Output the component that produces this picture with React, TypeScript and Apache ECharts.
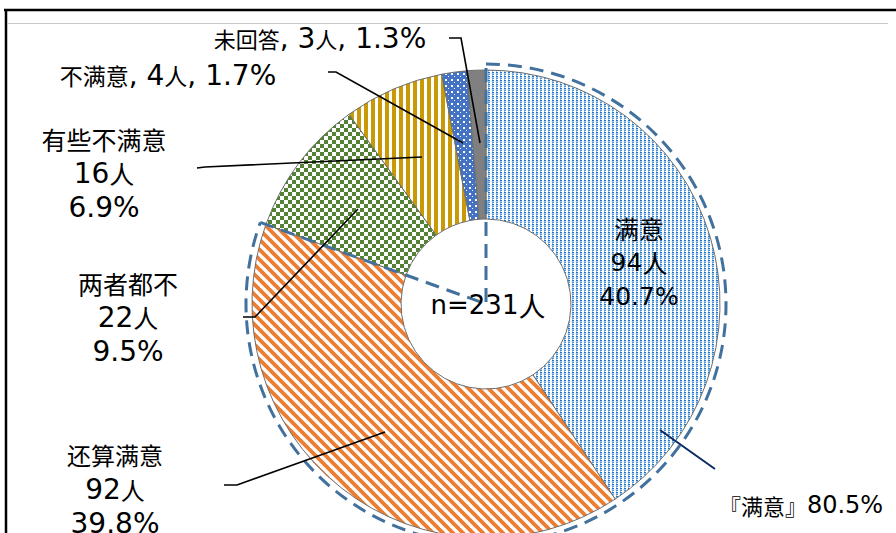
import React, { useEffect, useRef } from "react";
import * as echarts from "echarts";

const names = ["满意", "还算满意", "两者都不", "有些不满意", "不满意", "未回答"];
const counts = [94, 92, 22, 16, 4, 3];
const percents = [40.7, 39.8, 9.5, 6.9, 1.7, 1.3];
const totalLabel = "n=231人";
const groupLabel = "『满意』80.5%";
const groupCount = 2; // first two slices form the dashed group

const CX = 486;
const CY = 304;
const R_IN = 85;
const R_OUT = 234;
const R_DASH = 240;
const CJK = '"Noto Sans CJK SC", "Noto Sans CJK JP", sans-serif';
const LAT = '"DejaVu Sans", "Noto Sans", sans-serif';

function tile(w: number, h: number, draw: (c: CanvasRenderingContext2D) => void) {
  const cv = document.createElement("canvas");
  cv.width = w;
  cv.height = h;
  const c = cv.getContext("2d")!;
  draw(c);
  return { image: cv.toDataURL(), imageWidth: w, imageHeight: h, repeat: "repeat" };
}

function patterns(): any[] {
  const blueDots = tile(4, 4, (c) => {
    c.fillStyle = "#ffffff";
    c.fillRect(0, 0, 4, 4);
    c.fillStyle = "#1f77c9";
    c.fillRect(0, 0, 2, 1);
    c.fillStyle = "#4f95d8";
    c.fillRect(0, 2, 2, 1);
    c.fillStyle = "#9cc4ec";
    c.fillRect(0, 1, 2, 1);
    c.fillRect(0, 3, 1, 1);
    c.fillStyle = "#d6e7f7";
    c.fillRect(3, 1, 1, 1);
  });
  const orange = tile(10, 10, (c) => {
    c.fillStyle = "#ffffff";
    c.fillRect(0, 0, 10, 10);
    c.strokeStyle = "#ed7d31";
    c.lineWidth = 3.8;
    for (let k = -1; k <= 1; k++) {
      c.beginPath();
      c.moveTo(k * 10 - 2, -2);
      c.lineTo(k * 10 + 12, 12);
      c.stroke();
    }
  });
  const checker = tile(8, 8, (c) => {
    c.fillStyle = "#ffffff";
    c.fillRect(0, 0, 8, 8);
    c.fillStyle = "#548235";
    c.fillRect(0, 0, 4, 4);
    c.fillRect(4, 4, 4, 4);
  });
  const gold = tile(7, 2, (c) => {
    c.fillStyle = "#ffffff";
    c.fillRect(0, 0, 7, 2);
    c.fillStyle = "#c99a06";
    c.fillRect(0, 0, 4, 2);
  });
  const blueWhite = tile(6, 6, (c) => {
    c.fillStyle = "#4472c4";
    c.fillRect(0, 0, 6, 6);
    c.fillStyle = "#ffffff";
    c.fillRect(1, 1, 2, 2);
    c.fillRect(4, 4, 1, 1);
  });
  return [blueDots, orange, checker, gold, blueWhite, "#808080"];
}

// label placement: text block centre, font sizes (CJK / Latin), leader line points
const labelPos: { x: number; y: number; c: number; l: number; line?: number[][] }[] = [
  { x: 639, y: 262, c: 25, l: 25 },
  { x: 115, y: 489, c: 24, l: 28, line: [[385, 432], [237, 485], [224, 485]] },
  { x: 128, y: 317, c: 25, l: 28, line: [[358, 209], [255, 317], [243, 317]] },
  { x: 104, y: 173, c: 25, l: 28, line: [[422, 157], [205, 167], [197, 168]] },
  { x: 168, y: 75, c: 23, l: 28, line: [[463, 143], [336, 72], [328, 72]] },
  { x: 320, y: 38, c: 22, l: 28, line: [[480, 143], [461, 38], [449, 38]] },
];

// wrap runs of Latin and CJK characters in rich-text tags
function richText(s: string, c: string, l: string) {
  return s
    .split("\n")
    .map((line) =>
      line
        .split(/([\x20-\x7e]+)/)
        .filter((r) => r.length > 0)
        .map((r) => (/^[\x20-\x7e]+$/.test(r) ? `{${l}|${r}}` : `{${c}|${r}}`))
        .join("")
    )
    .join("\n");
}

function richStyles(c: number, l: number, lh: number) {
  return {
    c: { fontFamily: CJK, fontSize: c, lineHeight: lh, color: "#000" },
    l: { fontFamily: LAT, fontSize: l, lineHeight: lh, color: "#000" },
  };
}

export default function App() {
  const ref = useRef<HTMLDivElement>(null);
  useEffect(() => {
    document.body.style.margin = "0";
    const chart = echarts.init(ref.current!, undefined, { renderer: "svg" });
    const fills = patterns();
    const total = counts.reduce((a, b) => a + b, 0);
    const groupSum = counts.slice(0, groupCount).reduce((a, b) => a + b, 0);
    const a0 = -Math.PI / 2;
    const a1 = a0 + (2 * Math.PI * groupSum) / total;
    const dashStyle = { stroke: "#41719c", lineWidth: 3, lineDash: [14, 8], fill: "none" };

    const leaderLines = labelPos
      .filter((p) => p.line)
      .map((p) => ({
        type: "polyline",
        z: 150,
        shape: { points: p.line },
        style: { stroke: "#000", lineWidth: 1.6, fill: "none" },
      }));

    chart.setOption({
      animation: false,
      backgroundColor: "#ffffff",
      graphic: [
        { type: "line", z: 200, shape: { x1: 4, y1: 10, x2: 896, y2: 10 }, style: { stroke: "#000", lineWidth: 2.5 } },
        { type: "line", z: 200, shape: { x1: 6, y1: 10, x2: 6, y2: 533 }, style: { stroke: "#000", lineWidth: 2.5 } },
        { type: "line", z: 200, shape: { x1: 8, y1: 23.5, x2: 888, y2: 23.5 }, style: { stroke: "#c8c8c8", lineWidth: 1 } },
        {
          type: "arc",
          z: 100,
          shape: { cx: CX, cy: CY, r: R_DASH, startAngle: a0, endAngle: a1, clockwise: true },
          style: dashStyle,
        },
        {
          type: "polyline",
          z: 100,
          shape: {
            points: [
              [CX + R_DASH * Math.cos(a1), CY + R_DASH * Math.sin(a1)],
              [CX, CY],
              [CX, CY - R_DASH],
            ],
          },
          style: dashStyle,
        },
        ...leaderLines,
        {
          type: "text",
          z: 160,
          x: CX + 2,
          y: CY + 1,
          style: {
            text: richText(totalLabel, "c", "l"),
            rich: richStyles(27, 26, 34),
            align: "center",
            verticalAlign: "middle",
          },
        },
        {
          type: "line",
          z: 101,
          shape: { x1: 660, y1: 430, x2: 715, y2: 469 },
          style: { stroke: "#0b2a63", lineWidth: 2 },
        },
        {
          type: "text",
          z: 160,
          x: 801,
          y: 505,
          style: {
            text: richText(groupLabel, "c", "l"),
            rich: richStyles(22, 24, 30),
            align: "center",
            verticalAlign: "middle",
          },
        },
      ],
      series: [
        {
          type: "pie",
          z: 2,
          center: [CX, CY],
          radius: [R_IN, R_OUT],
          startAngle: 90,
          clockwise: true,
          avoidLabelOverlap: false,
          itemStyle: { borderColor: "#6e6e6e", borderWidth: 1 },
          label: {
            show: true,
            position: "outside",
            color: "#000",
            align: "center",
            formatter: (p: any) => {
              const i = p.dataIndex;
              const s =
                i >= 4
                  ? `${names[i]}, ${counts[i]}人, ${percents[i]}%`
                  : `${names[i]}\n${counts[i]}人\n${percents[i]}%`;
              return richText(s, "c", "l");
            },
          },
          labelLine: { show: false },
          labelLayout: (p: any) => {
            const lp = labelPos[p.dataIndex];
            return { x: lp.x, y: lp.y, align: "center", verticalAlign: "middle" };
          },
          emphasis: { disabled: true },
          data: names.map((n, i) => ({
            name: n,
            value: counts[i],
            itemStyle: { color: fills[i] },
            label: { rich: richStyles(labelPos[i].c, labelPos[i].l, 34.5) },
          })),
        },
      ],
    });
    return () => chart.dispose();
  }, []);
  return <div ref={ref} style={{ position: "fixed", left: 0, top: 0, width: 896, height: 533 }} />;
}
